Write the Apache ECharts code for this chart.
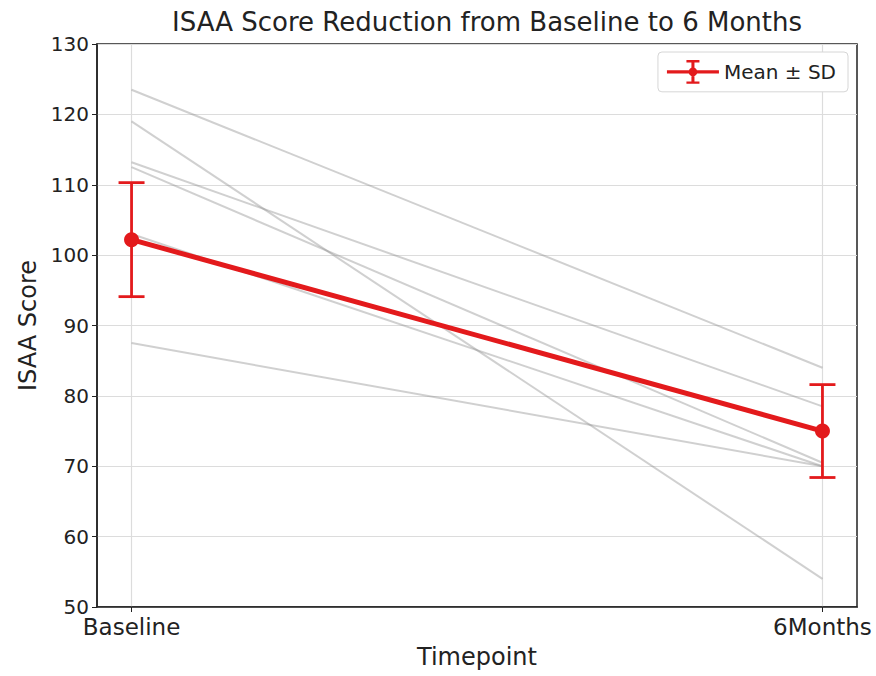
<!DOCTYPE html>
<html>
<head>
<meta charset="utf-8">
<script src="https://cdn.jsdelivr.net/npm/echarts@6/dist/echarts.min.js"></script>
<style>
html,body{margin:0;padding:0;background:#fff;}
#chart{width:876px;height:676px;}
</style>
</head>
<body>
<div id="chart"></div>
<script>
// ---- data ----
const timepoints = ['Baseline', '6Months'];
const subjectBaseline = [123.5, 119.0, 113.2, 112.5, 103.0, 87.5];
const subjectSixMonths = [84.0, 54.0, 78.5, 70.5, 70.0, 70.0];
const meanValues = [102.2, 75.0];
const sdValues = [8.1, 6.6];
const yMin = 50, yMax = 130, yStep = 10;
const titleText = 'ISAA Score Reduction from Baseline to 6 Months';
const xName = 'Timepoint';
const yName = 'ISAA Score';
const legendName = 'Mean ± SD';

const RED = '#e31a1c';
const FONT = 'DejaVu Sans';

const chart = echarts.init(document.getElementById('chart'), null, {renderer: 'svg'});

const subjectSeries = subjectBaseline.map((b, i) => ({
  type: 'line',
  name: 'subject' + (i + 1),
  data: [[0, b], [1, subjectSixMonths[i]]],
  symbol: 'none',
  silent: true,
  z: 1,
  lineStyle: {color: '#8a8a8a', opacity: 0.4, width: 2},
  emphasis: {disabled: true}
}));

const errData = meanValues.map((m, i) => [i, m, sdValues[i]]);

const legendIcon = 'path://M0 10.5H48V13.5H0Z M22.6 2H25.4V22H22.6Z M18 1H30V3.2H18Z M18 20.8H30V23H18Z M20 12a4 4 0 1 1 8 0a4 4 0 1 1 -8 0Z';

const option = {
  backgroundColor: '#fff',
  animation: false,
  textStyle: {fontFamily: FONT},
  title: {
    text: titleText,
    left: 482,
    textAlign: 'center',
    top: 4,
    textStyle: {fontFamily: FONT, fontSize: 26, fontWeight: 'normal', color: '#222'}
  },
  legend: {
    data: [{name: legendName, icon: legendIcon}],
    right: 28,
    top: 52,
    itemWidth: 52,
    itemHeight: 26,
    itemGap: 10,
    padding: [8, 12, 8, 9],
    backgroundColor: '#fff',
    borderColor: '#d6d6d6',
    borderWidth: 1,
    borderRadius: 4,
    textStyle: {fontFamily: FONT, fontSize: 20, color: '#222'}
  },
  grid: {
    left: 97, right: 19, top: 44, bottom: 69,
    show: true, borderColor: '#222', borderWidth: 1.5, backgroundColor: 'transparent'
  },
  xAxis: {
    type: 'value',
    min: -0.05,
    max: 1.05,
    name: xName,
    nameLocation: 'middle',
    nameGap: 38,
    nameTextStyle: {fontFamily: FONT, fontSize: 24, color: '#222'},
    axisLine: {show: true, onZero: false, lineStyle: {color: '#222', width: 1.5}},
    axisTick: {show: true, length: 5, customValues: [0, 1], lineStyle: {color: '#222'}},
    axisLabel: {
      customValues: [0, 1],
      fontFamily: FONT, fontSize: 23, color: '#222', margin: 8,
      formatter: v => timepoints[Math.round(v)]
    },
    splitLine: {show: true, lineStyle: {color: '#dcdcdc', width: 1.2}}
  },
  yAxis: {
    type: 'value',
    min: yMin,
    max: yMax,
    interval: yStep,
    name: yName,
    nameLocation: 'middle',
    nameGap: 55,
    nameRotate: 90,
    nameTextStyle: {fontFamily: FONT, fontSize: 24, color: '#222'},
    axisLine: {show: true, onZero: false, lineStyle: {color: '#222', width: 1.5}},
    axisTick: {show: true, length: 5, lineStyle: {color: '#222'}},
    axisLabel: {fontFamily: FONT, fontSize: 20, color: '#222', margin: 8},
    splitLine: {show: true, lineStyle: {color: '#dcdcdc', width: 1.2}}
  },
  series: [
    ...subjectSeries,
    {
      type: 'custom',
      name: legendName,
      data: errData,
      z: 3,
      silent: true,
      itemStyle: {color: RED},
      renderItem: (params, api) => {
        const x = api.value(0), m = api.value(1), s = api.value(2);
        const top = api.coord([x, m + s]);
        const bot = api.coord([x, m - s]);
        const hw = 13;
        const st = {stroke: RED, lineWidth: 2.8};
        return {
          type: 'group',
          children: [
            {type: 'line', shape: {x1: top[0], y1: top[1], x2: bot[0], y2: bot[1]}, style: st},
            {type: 'line', shape: {x1: top[0] - hw, y1: top[1], x2: top[0] + hw, y2: top[1]}, style: st},
            {type: 'line', shape: {x1: bot[0] - hw, y1: bot[1], x2: bot[0] + hw, y2: bot[1]}, style: st}
          ]
        };
      }
    },
    {
      type: 'line',
      name: legendName,
      data: meanValues.map((m, i) => [i, m]),
      z: 4,
      symbol: 'circle',
      symbolSize: 15,
      itemStyle: {color: RED},
      lineStyle: {color: RED, width: 5},
      silent: true
    }
  ]
};
chart.setOption(option);
</script>
</body>
</html>
